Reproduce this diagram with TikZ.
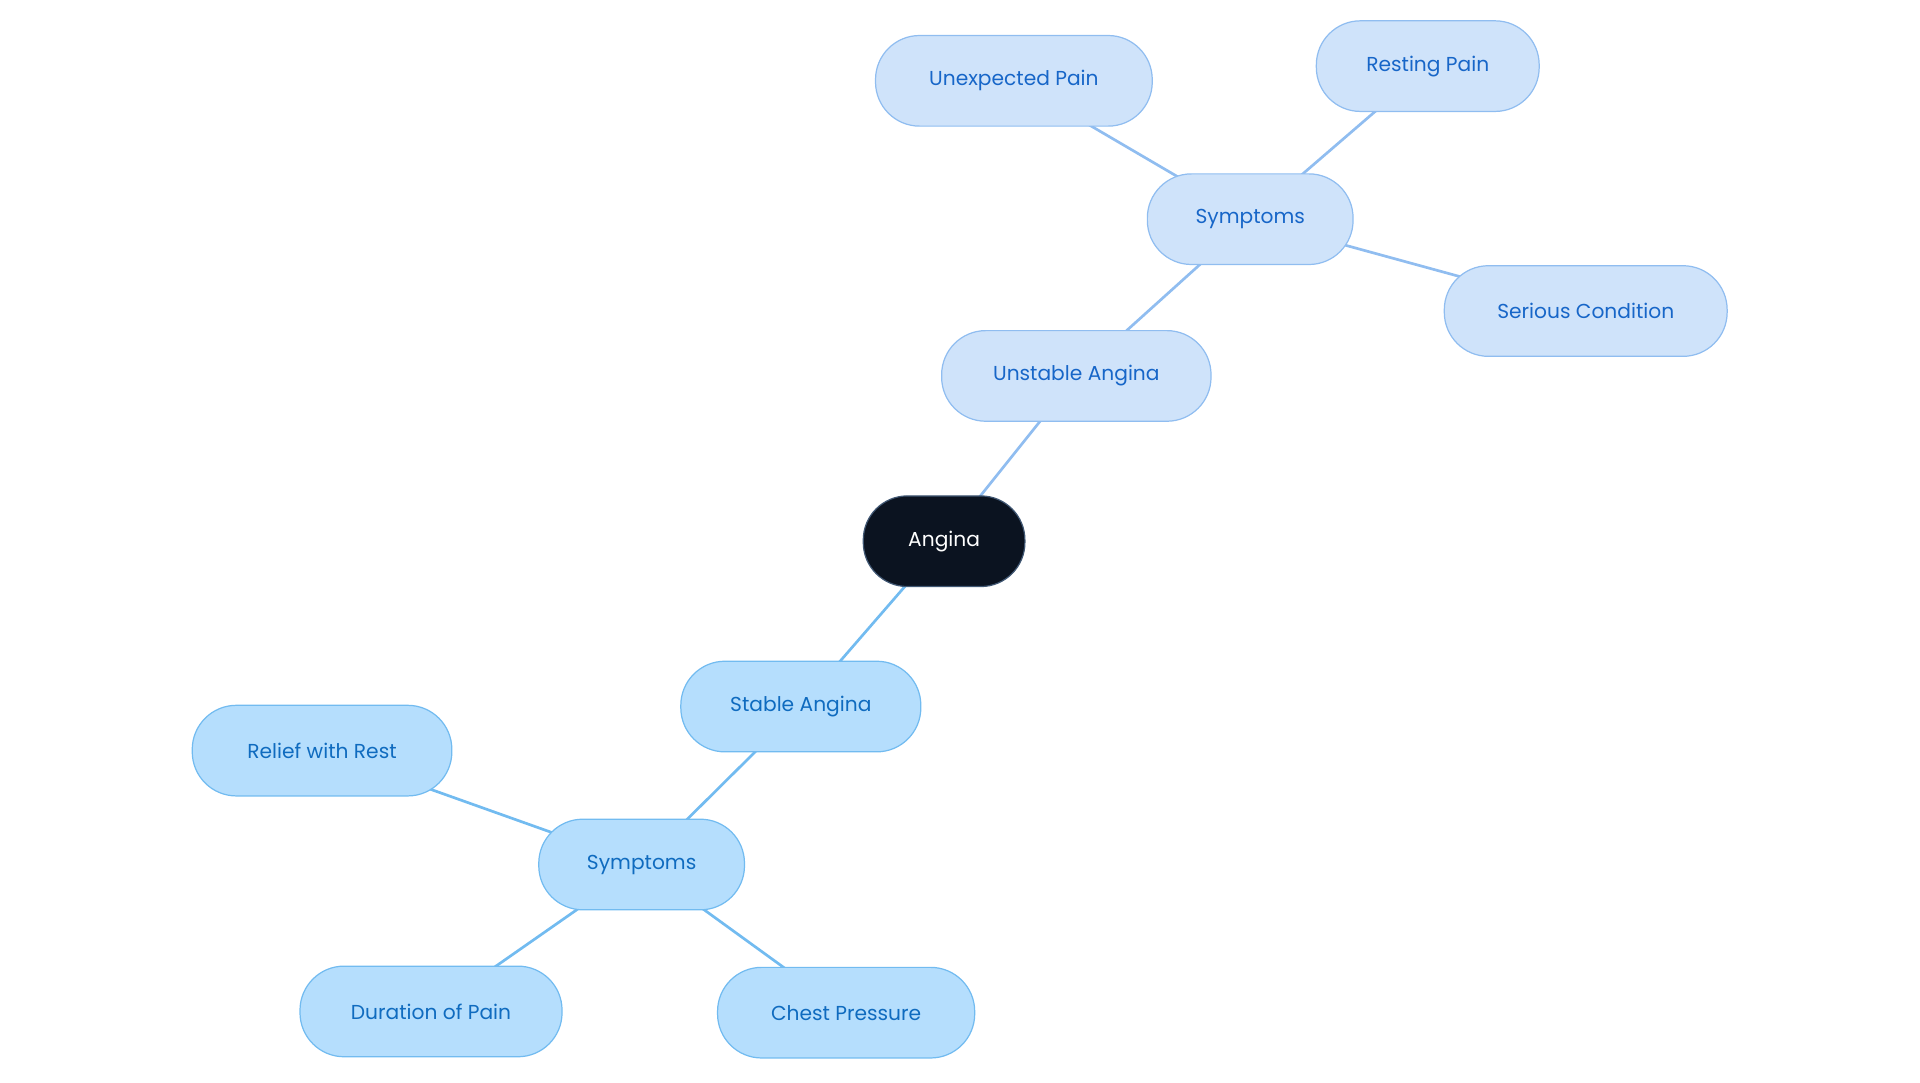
\documentclass[tikz,border=0pt]{standalone}
\usepackage{fontspec}
\setmainfont{Poppins}
\definecolor{ufill}{HTML}{CFE3FA}
\definecolor{uline}{HTML}{90BDF0}
\definecolor{utext}{HTML}{1766C8}
\definecolor{lfill}{HTML}{B5DEFD}
\definecolor{lline}{HTML}{72BBF0}
\definecolor{ltext}{HTML}{0F6BBF}
\definecolor{root}{HTML}{0B1320}
\begin{document}
\begin{tikzpicture}[x=1pt,y=-1pt,
  box/.style={rounded corners=36pt,minimum height=74pt,inner sep=0pt,font=\fontsize{16.5}{20}\selectfont,line width=1pt},
  up/.style={box,fill=ufill,draw=uline,text=utext},
  lo/.style={box,fill=lfill,draw=lline,text=ltext},
  ue/.style={draw=uline,line width=2.2pt},
  le/.style={draw=lline,line width=2.2pt}]
\useasboundingbox (0,0) rectangle (1568,884);
\draw[ue] (771,442) -- (879,307);
\draw[ue] (879,307) -- (1021,179);
\draw[ue] (1021,179) -- (828,66);
\draw[ue] (1021,179) -- (1166,54);
\draw[ue] (1021,179) -- (1295,254);
\draw[le] (771,442) -- (654,577);
\draw[le] (654,577) -- (524,706);
\draw[le] (524,706) -- (263,613);
\draw[le] (524,706) -- (352,826);
\draw[le] (524,706) -- (691,827);
\node[box,fill=root,draw=uline!40!root,text=white,minimum width=132pt] (a) at (771,442) {Angina};
\node[up,minimum width=220pt] (u) at (879,307) {Unstable Angina};
\node[up,minimum width=168pt] (us) at (1021,179) {Symptoms};
\node[up,minimum width=226pt] (up1) at (828,66) {Unexpected Pain};
\node[up,minimum width=182pt] (rp) at (1166,54) {Resting Pain};
\node[up,minimum width=231pt] (sc) at (1295,254) {Serious Condition};
\node[lo,minimum width=196pt] (s) at (654,577) {Stable Angina};
\node[lo,minimum width=168pt] (ss) at (524,706) {Symptoms};
\node[lo,minimum width=212pt] (rr) at (263,613) {Relief with Rest};
\node[lo,minimum width=214pt] (dp) at (352,826) {Duration of Pain};
\node[lo,minimum width=210pt] (cp) at (691,827) {Chest Pressure};
\end{tikzpicture}
\end{document}
